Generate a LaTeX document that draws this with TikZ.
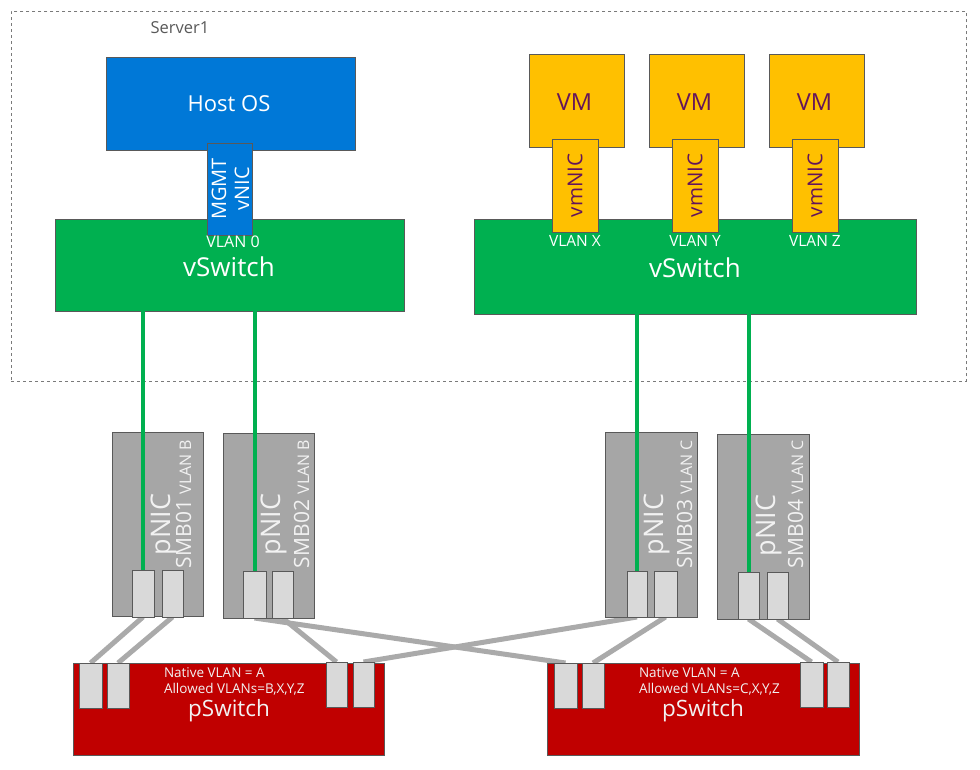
\documentclass[tikz,border=0pt]{standalone}
\usepackage{fontspec}
\setmainfont{Open Sans}
\pgfdeclarelayer{background}
\pgfsetlayers{background,main}
\definecolor{hostblue}{RGB}{0,120,215}
\definecolor{vmyellow}{RGB}{255,192,0}
\definecolor{vgreen}{RGB}{0,176,80}
\definecolor{nicgray}{RGB}{166,166,166}
\definecolor{portgray}{RGB}{217,217,217}
\definecolor{swred}{RGB}{192,0,0}
\definecolor{edgegray}{RGB}{89,89,89}
\definecolor{txtpurple}{RGB}{100,20,90}
\definecolor{cablegray}{RGB}{170,170,170}
\definecolor{nictext}{RGB}{242,242,242}
\newcommand{\fsz}[1]{\fontsize{#1}{#1}\selectfont}
\begin{document}
\begin{tikzpicture}[x=1pt,y=-1pt,
  box/.style={draw=edgegray, line width=0.8pt, inner sep=0pt, outer sep=0pt},
  hostbox/.style={box, fill=hostblue, text=white},
  vmbox/.style={box, fill=vmyellow, text=txtpurple},
  vswbox/.style={box, fill=vgreen, text=white},
  nicbox/.style={box, fill=nicgray},
  portbox/.style={box, fill=portgray},
  pswbox/.style={box, fill=swred},
  lbl/.style={inner sep=0pt, outer sep=0pt},
  nictxt/.style={lbl, text=nictext, rotate=90, anchor=base west},
  cable/.style={cablegray, line width=5pt},
  greenline/.style={vgreen, line width=4pt}
]
\useasboundingbox (0,0) rectangle (980,770);
\begin{pgfonlayer}{background}
\fill[white] (0,0) rectangle (980,770);
\end{pgfonlayer}

% server boundary
\node[draw=edgegray!80, dashed, line width=0.6pt, minimum width=955pt, minimum height=370pt, inner sep=0pt, anchor=north west] (server) at (11,11) {};
\node[lbl, text=edgegray, font=\fsz{16.5}] (srvlbl) at (180,28) {Server1};

% left side
\node[hostbox, minimum width=249pt, minimum height=93pt] (host) at (230.5,103.5) {};
\node[lbl, text=white, font=\fsz{22}] (hostlbl) at (229,104) {Host OS};
\node[vswbox, minimum width=349pt, minimum height=92pt] (vswL) at (229.5,265) {};
\node[box, fill=hostblue, text=white, minimum width=45pt, minimum height=92pt] (mgmt) at (229.5,189) {};
\node[lbl, text=white, rotate=90, align=center, font=\fsz{20}] (mgmtlbl) at (230.5,189) {MGMT\\[3pt]vNIC};
\node[lbl, text=white, font=\fsz{16}] (vlan0) at (233,242) {VLAN 0};
\node[lbl, text=white, font=\fsz{26}] (vswLlbl) at (229,267) {vSwitch};

% right side
\node[vswbox, minimum width=442pt, minimum height=95pt] (vswR) at (695,266.5) {};
\foreach \i/\x in {1/576.5,2/696.5,3/816.5}{
  \node[vmbox, minimum width=95pt, minimum height=93pt] (vm\i) at (\x,100.5) {};
  \node[lbl, text=txtpurple, font=\fsz{23.5}] (vmlbl\i) at (\x-2,102) {VM};
}
\foreach \i/\x/\v in {1/575/X,2/695/Y,3/815/Z}{
  \node[vmbox, minimum width=46pt, minimum height=93pt] (vmnic\i) at (\x,185.5) {};
  \node[lbl, text=txtpurple, rotate=90, font=\fsz{20.5}] (vmniclbl\i) at (\x,185.5) {vmNIC};
  \node[lbl, text=white, font=\fsz{15.5}] (vlan\v) at (\x,241) {VLAN \v};
}
\node[lbl, text=white, font=\fsz{26}] (vswRlbl) at (695,268) {vSwitch};

% pNIC boxes
\node[nicbox, minimum width=91pt, minimum height=184pt] (nic1) at (157.5,524) {};
\node[nicbox, minimum width=91pt, minimum height=185pt] (nic2) at (268.5,525.5) {};
\node[nicbox, minimum width=92pt, minimum height=185pt] (nic3) at (651,524.5) {};
\node[nicbox, minimum width=92pt, minimum height=185pt] (nic4) at (763,526.5) {};

\node[nictxt, font=\fsz{27}] (nic1a) at (170,555) {pNIC};
\node[nictxt, font=\fsz{21}] (nic1b) at (191,568) {SMB01 \fsz{16}VLAN B};
\node[nictxt, font=\fsz{27}] (nic2a) at (280,555) {pNIC};
\node[nictxt, font=\fsz{21}] (nic2b) at (309,568) {SMB02 \fsz{16}VLAN B};
\node[nictxt, font=\fsz{27}] (nic3a) at (663,555) {pNIC};
\node[nictxt, font=\fsz{21}] (nic3b) at (692,568) {SMB03 \fsz{16}VLAN C};
\node[nictxt, font=\fsz{27}] (nic4a) at (775,556) {pNIC};
\node[nictxt, font=\fsz{21}] (nic4b) at (803,568) {SMB04 \fsz{16}VLAN C};

% pNIC ports
\node[portbox, minimum width=22pt, minimum height=47pt] (p1a) at (143,593.5) {};
\node[portbox, minimum width=21pt, minimum height=47pt] (p1b) at (172.5,593.5) {};
\node[portbox, minimum width=23pt, minimum height=47pt] (p2a) at (254.5,594.5) {};
\node[portbox, minimum width=21pt, minimum height=47pt] (p2b) at (282.5,594.5) {};
\node[portbox, minimum width=20pt, minimum height=46pt] (p3a) at (637,594) {};
\node[portbox, minimum width=23pt, minimum height=46pt] (p3b) at (665.5,594) {};
\node[portbox, minimum width=21pt, minimum height=47pt] (p4a) at (748.5,595.5) {};
\node[portbox, minimum width=21pt, minimum height=47pt] (p4b) at (777.5,595.5) {};

% pSwitches
\node[pswbox, minimum width=311pt, minimum height=92pt] (pswL) at (228.5,709) {};
\node[pswbox, minimum width=312pt, minimum height=92pt] (pswR) at (703,709) {};
\node[portbox, minimum width=23pt, minimum height=45pt] (l1) at (90.5,685.5) {};
\node[portbox, minimum width=22pt, minimum height=45pt] (l2) at (118,685.5) {};
\node[portbox, minimum width=21pt, minimum height=45pt] (l3) at (336.5,684.5) {};
\node[portbox, minimum width=21pt, minimum height=45pt] (l4) at (363.5,684.5) {};
\node[portbox, minimum width=23pt, minimum height=45pt] (r1) at (565.5,685.5) {};
\node[portbox, minimum width=22pt, minimum height=45pt] (r2) at (593,685.5) {};
\node[portbox, minimum width=23pt, minimum height=45pt] (r3) at (811.5,684.5) {};
\node[portbox, minimum width=22pt, minimum height=45pt] (r4) at (838,684.5) {};

\node[lbl, text=nictext, font=\fsz{13.5}, anchor=west] (natL) at (164,673) {Native VLAN = A};
\node[lbl, text=nictext, font=\fsz{13.5}, anchor=west] (allL) at (164,689) {Allowed VLANs=B,X,Y,Z};
\node[lbl, text=nictext, font=\fsz{22.5}] (pswLlbl) at (229,711) {pSwitch};
\node[lbl, text=nictext, font=\fsz{13.5}, anchor=west] (natR) at (639,673) {Native VLAN = A};
\node[lbl, text=nictext, font=\fsz{13.5}, anchor=west] (allR) at (639,689) {Allowed VLANs=C,X,Y,Z};
\node[lbl, text=nictext, font=\fsz{22.5}] (pswRlbl) at (703,711) {pSwitch};

% green links (on top of pNIC boxes)
\draw[greenline] (p1a.north |- vswL.south) -- (p1a.north);
\draw[greenline] (p2a.north |- vswL.south) -- (p2a.north);
\draw[greenline] (p3a.north |- vswR.south) -- (p3a.north);
\draw[greenline] (p4a.north |- vswR.south) -- (p4a.north);

% gray cables (behind)
\begin{pgfonlayer}{background}
\draw[cable] (p1a.south) -- (l1.north);
\draw[cable] (p1b.south) -- (l2.north);
\draw[cable] (p2a.south) -- (r1.north);
\draw[cable] (p2b.south) -- (l3.north);
\draw[cable] (l4.north) -- (p3a.south);
\draw[cable] (p3b.south) -- (r2.north);
\draw[cable] (p4a.south) -- (r3.north);
\draw[cable] (p4b.south) -- (r4.north);
\end{pgfonlayer}
\end{tikzpicture}
\end{document}
